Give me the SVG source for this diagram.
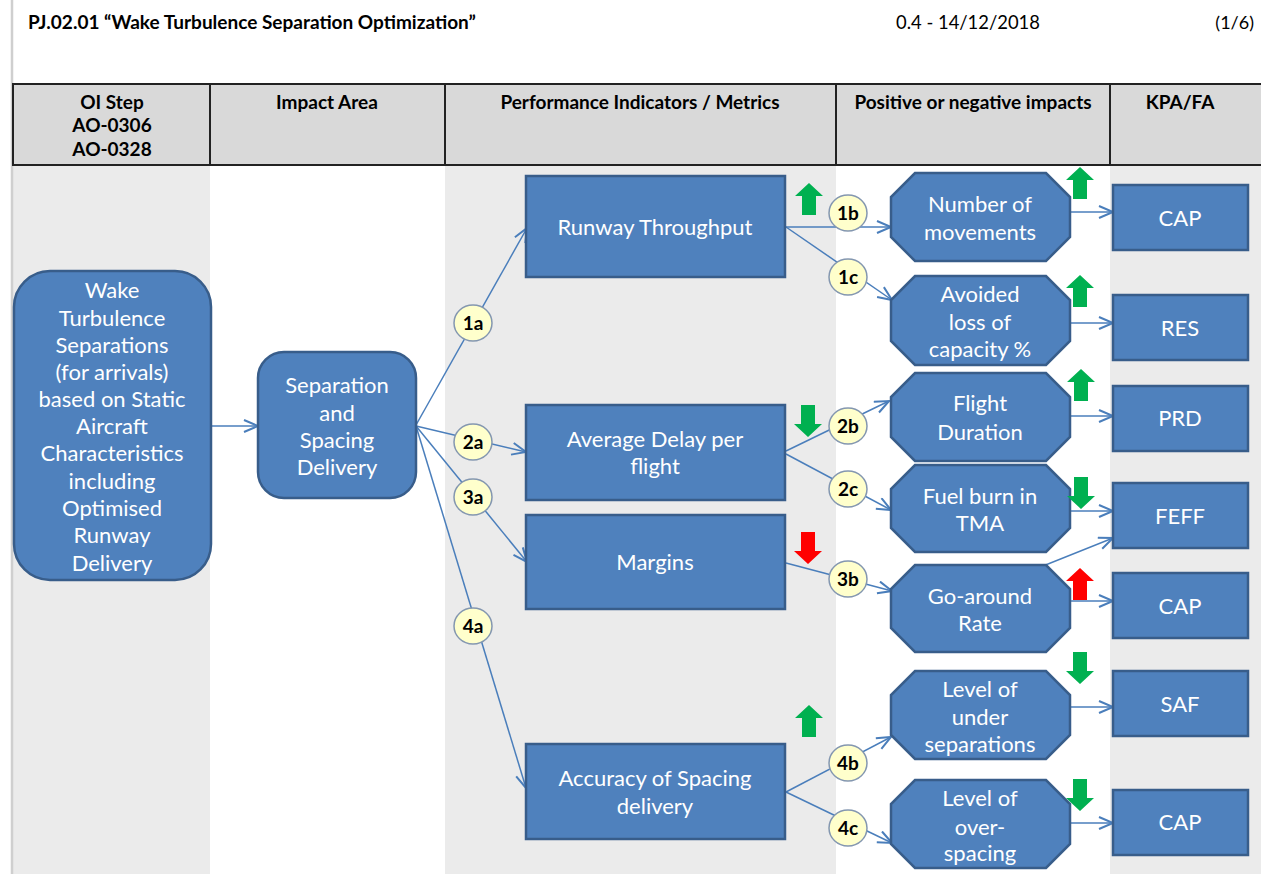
<svg xmlns="http://www.w3.org/2000/svg" xmlns:xlink="http://www.w3.org/1999/xlink" width="1261" height="874" viewBox="0 0 1261 874">
<defs>
<style>
.t{font-family:Lato,"Liberation Sans",sans-serif;}
.hd{font-family:Lato,"Liberation Sans",sans-serif;font-weight:bold;font-size:19px;fill:#000;text-anchor:middle;}
.nt{font-family:Lato,"Liberation Sans",sans-serif;font-size:22px;fill:#fff;text-anchor:middle;}
.bt{font-family:Lato,"Liberation Sans",sans-serif;font-weight:bold;font-size:19px;fill:#000;text-anchor:middle;}
.box{fill:#4f81bd;stroke:#385d8a;stroke-width:2.5;}
.bdg{fill:#ffffcc;stroke:#8497b0;stroke-width:1.5;}
.cn{stroke:#4a7ebb;stroke-width:1.5;fill:none;marker-end:url(#arr);}
.g{fill:#00b050;}
.r{fill:#ff0000;}
</style>
<marker id="arr" markerUnits="userSpaceOnUse" markerWidth="18" markerHeight="16" refX="15" refY="7" orient="auto">
<path d="M1,1 L15,7 L1,13" fill="none" stroke="#4a7ebb" stroke-width="2"/>
</marker>
<path id="up" d="M0,0 L14,13 L7,13 L7,32 L-7,32 L-7,13 L-14,13 Z"/>
<path id="dn" d="M-7,0 L7,0 L7,19 L14,19 L0,32 L-14,19 L-7,19 Z"/>
</defs>

<rect x="0" y="0" width="1261" height="874" fill="#ffffff"/>
<!-- body columns -->
<rect x="13" y="165" width="197" height="709" fill="#ebebeb"/>
<rect x="445" y="165" width="391" height="709" fill="#ebebeb"/>
<rect x="1110" y="165" width="151" height="709" fill="#ebebeb"/>
<line x1="12" y1="0" x2="12" y2="874" stroke="#cfcfcf" stroke-width="2.5"/>

<!-- title -->
<text class="t" x="28" y="29" font-size="19" font-weight="bold">PJ.02.01 “Wake Turbulence Separation Optimization”</text>
<text class="t" x="968" y="29" font-size="18.4" text-anchor="middle">0.4 - 14/12/2018</text>
<text class="t" x="1254" y="29" font-size="18" text-anchor="end">(1/6)</text>

<!-- header -->
<g id="header">
<rect x="13" y="84" width="1252" height="81" fill="#d9d9d9" stroke="#222" stroke-width="2"/>
<line x1="210" y1="84" x2="210" y2="165" stroke="#222" stroke-width="2"/>
<line x1="445" y1="84" x2="445" y2="165" stroke="#222" stroke-width="2"/>
<line x1="836" y1="84" x2="836" y2="165" stroke="#222" stroke-width="2"/>
<line x1="1110" y1="84" x2="1110" y2="165" stroke="#222" stroke-width="2"/>
<text class="hd" x="112" y="109">OI Step</text>
<text class="hd" x="112" y="132">AO-0306</text>
<text class="hd" x="112" y="156">AO-0328</text>
<text class="hd" x="327" y="109">Impact Area</text>
<text class="hd" x="640" y="109">Performance Indicators / Metrics</text>
<text class="hd" x="973" y="109">Positive or negative impacts</text>
<text class="hd" x="1180" y="109">KPA/FA</text>
</g>

<!-- connectors -->
<g id="connectors">
<line class="cn" x1="212" y1="426" x2="258" y2="426"/>
<line class="cn" x1="416" y1="425" x2="527" y2="228"/>
<line class="cn" x1="416" y1="426" x2="526" y2="452"/>
<line class="cn" x1="416" y1="426" x2="527" y2="562"/>
<line class="cn" x1="416" y1="426" x2="526" y2="788"/>
<line class="cn" x1="786" y1="227" x2="891" y2="227"/>
<line class="cn" x1="786" y1="227" x2="892" y2="300"/>
<line class="cn" x1="786" y1="451" x2="889" y2="401"/>
<line class="cn" x1="786" y1="454" x2="891" y2="510"/>
<line class="cn" x1="786" y1="563" x2="892" y2="591"/>
<line class="cn" x1="786" y1="792" x2="891" y2="737"/>
<line class="cn" x1="786" y1="792" x2="892" y2="843"/>
<line class="cn" x1="1070" y1="212" x2="1113" y2="212"/>
<line class="cn" x1="1070" y1="323" x2="1113" y2="323"/>
<line class="cn" x1="1070" y1="416" x2="1113" y2="416"/>
<line class="cn" x1="1070" y1="511" x2="1113" y2="511"/>
<line class="cn" x1="1043" y1="566" x2="1113" y2="538"/>
<line class="cn" x1="1070" y1="601" x2="1113" y2="601"/>
<line class="cn" x1="1070" y1="707" x2="1113" y2="707"/>
<line class="cn" x1="1070" y1="823" x2="1113" y2="823"/>
</g>

<!-- nodes -->
<g id="oi-step">
<rect class="box" x="14" y="271" width="197" height="309" rx="36"/>
<text class="nt" x="112" y="298">Wake</text>
<text class="nt" x="112" y="326">Turbulence</text>
<text class="nt" x="112" y="353">Separations</text>
<text class="nt" x="112" y="380">(for arrivals)</text>
<text class="nt" x="112" y="407">based on Static</text>
<text class="nt" x="112" y="434">Aircraft</text>
<text class="nt" x="112" y="461">Characteristics</text>
<text class="nt" x="112" y="489">including</text>
<text class="nt" x="112" y="516">Optimised</text>
<text class="nt" x="112" y="543">Runway</text>
<text class="nt" x="112" y="571">Delivery</text>
</g>
<g id="impact-area">
<rect class="box" x="258" y="352" width="158" height="146" rx="26"/>
<text class="nt" x="337" y="393">Separation</text>
<text class="nt" x="337" y="421">and</text>
<text class="nt" x="337" y="448">Spacing</text>
<text class="nt" x="337" y="475">Delivery</text>
</g>

<g id="runway-throughput">
<rect class="box" x="526" y="176" width="259" height="101"/>
<text class="nt" x="655" y="235">Runway Throughput</text>
</g>
<g id="average-delay">
<rect class="box" x="526" y="405" width="259" height="95"/>
<text class="nt" x="655" y="447">Average Delay per</text>
<text class="nt" x="655" y="474">flight</text>
</g>
<g id="margins">
<rect class="box" x="526" y="515" width="259" height="94"/>
<text class="nt" x="655" y="570">Margins</text>
</g>
<g id="accuracy">
<rect class="box" x="526" y="744" width="259" height="95"/>
<text class="nt" x="655" y="786">Accuracy of Spacing</text>
<text class="nt" x="655" y="814">delivery</text>
</g>

<g id="number-of-movements">
<polygon class="box" points="915,173 1046,173 1070,197 1070,237 1046,261 915,261 891,237 891,197"/>
<text class="nt" x="980" y="212">Number of</text>
<text class="nt" x="980" y="240">movements</text>
</g>
<g id="avoided-loss">
<polygon class="box" points="915,276 1046,276 1070,300 1070,341 1046,365 915,365 891,341 891,300"/>
<text class="nt" x="980" y="302">Avoided</text>
<text class="nt" x="980" y="330">loss of</text>
<text class="nt" x="980" y="357">capacity %</text>
</g>
<g id="flight-duration">
<polygon class="box" points="915,373 1046,373 1070,397 1070,437 1046,461 915,461 891,437 891,397"/>
<text class="nt" x="980" y="411">Flight</text>
<text class="nt" x="980" y="440">Duration</text>
</g>
<g id="fuel-burn">
<polygon class="box" points="915,465 1046,465 1070,489 1070,528 1046,552 915,552 891,528 891,489"/>
<text class="nt" x="980" y="504">Fuel burn in</text>
<text class="nt" x="980" y="531">TMA</text>
</g>
<g id="go-around">
<polygon class="box" points="915,565 1046,565 1070,589 1070,628 1046,652 915,652 891,628 891,589"/>
<text class="nt" x="980" y="604">Go-around</text>
<text class="nt" x="980" y="631">Rate</text>
</g>
<g id="under-separations">
<polygon class="box" points="915,671 1046,671 1070,695 1070,735 1046,759 915,759 891,735 891,695"/>
<text class="nt" x="980" y="697">Level of</text>
<text class="nt" x="980" y="725">under</text>
<text class="nt" x="980" y="752">separations</text>
</g>
<g id="over-spacing">
<polygon class="box" points="915,780 1046,780 1070,804 1070,844 1046,868 915,868 891,844 891,804"/>
<text class="nt" x="980" y="806">Level of</text>
<text class="nt" x="980" y="835">over-</text>
<text class="nt" x="980" y="861">spacing</text>
</g>

<g id="kpa-cap1"><rect class="box" x="1113" y="185" width="135" height="65"/><text class="nt" x="1180" y="226">CAP</text></g>
<g id="kpa-res"><rect class="box" x="1113" y="295" width="135" height="65"/><text class="nt" x="1180" y="336">RES</text></g>
<g id="kpa-prd"><rect class="box" x="1113" y="386" width="135" height="65"/><text class="nt" x="1180" y="426">PRD</text></g>
<g id="kpa-feff"><rect class="box" x="1113" y="483" width="135" height="65"/><text class="nt" x="1180" y="524">FEFF</text></g>
<g id="kpa-cap2"><rect class="box" x="1113" y="573" width="135" height="65"/><text class="nt" x="1180" y="614">CAP</text></g>
<g id="kpa-saf"><rect class="box" x="1113" y="671" width="135" height="65"/><text class="nt" x="1180" y="712">SAF</text></g>
<g id="kpa-cap3"><rect class="box" x="1113" y="790" width="135" height="65"/><text class="nt" x="1180" y="830">CAP</text></g>

<!-- badges -->
<g id="badge-1a"><ellipse class="bdg" cx="473" cy="323" rx="19" ry="18"/><text class="bt" x="473" y="330">1a</text></g>
<g id="badge-1b"><ellipse class="bdg" cx="848" cy="213" rx="19" ry="18"/><text class="bt" x="848" y="220">1b</text></g>
<g id="badge-1c"><ellipse class="bdg" cx="848" cy="277" rx="19" ry="18"/><text class="bt" x="848" y="284">1c</text></g>
<g id="badge-2a"><ellipse class="bdg" cx="473" cy="442" rx="19" ry="18"/><text class="bt" x="473" y="449">2a</text></g>
<g id="badge-2b"><ellipse class="bdg" cx="848" cy="426" rx="19" ry="18"/><text class="bt" x="848" y="433">2b</text></g>
<g id="badge-2c"><ellipse class="bdg" cx="848" cy="489" rx="19" ry="18"/><text class="bt" x="848" y="496">2c</text></g>
<g id="badge-3a"><ellipse class="bdg" cx="473" cy="497" rx="19" ry="18"/><text class="bt" x="473" y="504">3a</text></g>
<g id="badge-3b"><ellipse class="bdg" cx="848" cy="579" rx="19" ry="18"/><text class="bt" x="848" y="586">3b</text></g>
<g id="badge-4a"><ellipse class="bdg" cx="473" cy="626" rx="19" ry="18"/><text class="bt" x="473" y="633">4a</text></g>
<g id="badge-4b"><ellipse class="bdg" cx="848" cy="763" rx="19" ry="18"/><text class="bt" x="848" y="770">4b</text></g>
<g id="badge-4c"><ellipse class="bdg" cx="848" cy="828" rx="19" ry="18"/><text class="bt" x="848" y="835">4c</text></g>

<!-- impact arrows -->
<g id="impact-arrows">
<use xlink:href="#up" class="g" x="809" y="183"/>
<use xlink:href="#up" class="g" x="1080" y="167"/>
<use xlink:href="#up" class="g" x="1080" y="275"/>
<use xlink:href="#up" class="g" x="1081" y="369"/>
<use xlink:href="#dn" class="g" x="808" y="405"/>
<use xlink:href="#dn" class="g" x="1081" y="477"/>
<use xlink:href="#dn" class="r" x="808" y="532"/>
<use xlink:href="#up" class="r" x="1080" y="568"/>
<use xlink:href="#dn" class="g" x="1080" y="652"/>
<use xlink:href="#up" class="g" x="809" y="705"/>
<use xlink:href="#dn" class="g" x="1080" y="779"/>
</g>
</svg>
